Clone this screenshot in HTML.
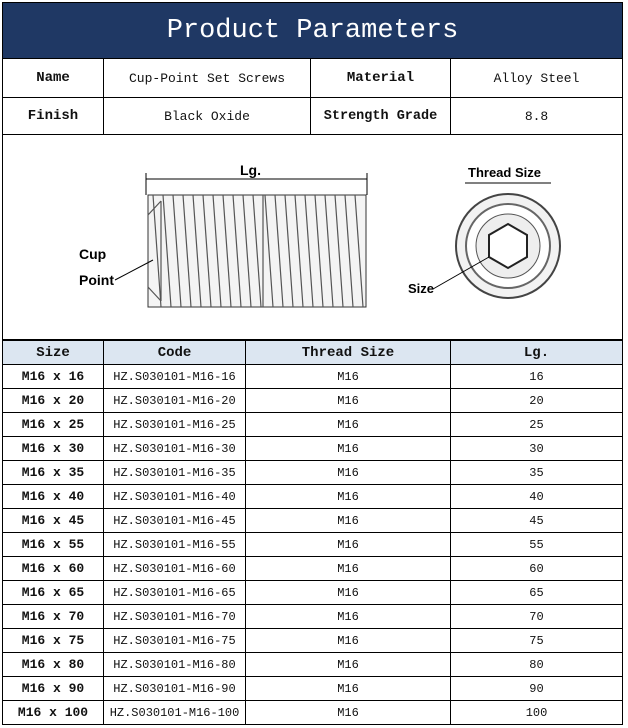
<!DOCTYPE html>
<html><head><style>
body{margin:0;background:#fff;width:628px;height:728px;overflow:hidden;font-family:"Liberation Mono","Noto Sans CJK SC",monospace;}
.wrap{position:absolute;left:2px;top:2px;width:620px;}
table{border-collapse:collapse;width:620px;table-layout:fixed;}
td{border:1px solid #000;text-align:center;padding:0;font-size:13px;color:#111;white-space:nowrap;overflow:hidden;}
.b{font-family:"Liberation Mono",monospace;font-weight:bold;font-size:14px;}
.hdr{background:#1f3864;color:#fff;font-family:"Liberation Mono",monospace;font-size:27px;height:55px;}
.th td{background:#dce6f1;height:23px;}
.r td{height:23px;font-size:12px;}
.r td:first-child{font-weight:bold;font-size:13px;}
</style></head><body>
<div class="wrap">
<table>
<colgroup><col style="width:101px"><col style="width:207px"><col style="width:140px"><col style="width:172px"></colgroup>
<tr><td colspan="4" class="hdr">Product Parameters</td></tr>
<tr style="height:39px"><td class="b">Name</td><td>Cup-Point Set Screws</td><td class="b">Material</td><td>Alloy Steel</td></tr>
<tr style="height:37px"><td class="b">Finish</td><td>Black Oxide</td><td class="b" style="font-size:13.5px">Strength Grade</td><td>8.8</td></tr>
<tr style="height:205px"><td colspan="4" style="position:relative">
<svg width="618" height="203" viewBox="0 0 618 203" style="position:absolute;left:0;top:0" font-family="Liberation Sans,sans-serif" font-weight="bold" font-size="14">
<text x="237" y="40">Lg.</text>
<line x1="143" y1="44" x2="364" y2="44" stroke="#000"/>
<line x1="143" y1="38" x2="143" y2="60" stroke="#000"/>
<line x1="364" y1="38" x2="364" y2="60" stroke="#000"/>
<rect x="145" y="60" width="218" height="112" fill="#f4f4f4" stroke="#333"/>
<g stroke="#555" stroke-width="1.2" fill="none">
<path d="M150 60 l8 112 M160 60 l8 112 M170 60 l8 112 M180 60 l8 112 M190 60 l8 112 M200 60 l8 112 M210 60 l8 112 M220 60 l8 112 M230 60 l8 112 M240 60 l8 112 M250 60 l8 112 M262 60 l8 112 M272 60 l8 112 M282 60 l8 112 M292 60 l8 112 M302 60 l8 112 M312 60 l8 112 M322 60 l8 112 M332 60 l8 112 M342 60 l8 112 M352 60 l8 112"/>
<line x1="260" y1="60" x2="260" y2="172"/>
<path d="M145 80 L158 66 M145 152 L158 166 M158 66 L158 166"/>
</g>
<text x="76" y="124">Cup</text><text x="76" y="150">Point</text>
<line x1="112" y1="145" x2="150" y2="125" stroke="#000"/>
<text x="465" y="42" font-size="13">Thread Size</text>
<line x1="462" y1="48" x2="548" y2="48" stroke="#000"/>
<circle cx="505" cy="111" r="52" fill="#f2f2f2" stroke="#444" stroke-width="2"/>
<circle cx="505" cy="111" r="42" fill="#fff" stroke="#666" stroke-width="2"/>
<circle cx="505" cy="111" r="32" fill="#eee" stroke="#555"/>
<polygon points="505,89 524,100 524,122 505,133 486,122 486,100" fill="#fff" stroke="#222" stroke-width="2"/>
<text x="405" y="158" font-size="13">Size</text>
<line x1="430" y1="154" x2="486" y2="122" stroke="#000"/>
</svg></td></tr>
</table>
<table>
<colgroup><col style="width:101px"><col style="width:142px"><col style="width:205px"><col style="width:172px"></colgroup>
<tr class="th"><td class="b">Size</td><td class="b">Code</td><td class="b">Thread Size</td><td class="b">Lg.</td></tr>
<tr class="r"><td>M16 x 16</td><td>HZ.S030101-M16-16</td><td>M16</td><td>16</td></tr>
<tr class="r"><td>M16 x 20</td><td>HZ.S030101-M16-20</td><td>M16</td><td>20</td></tr>
<tr class="r"><td>M16 x 25</td><td>HZ.S030101-M16-25</td><td>M16</td><td>25</td></tr>
<tr class="r"><td>M16 x 30</td><td>HZ.S030101-M16-30</td><td>M16</td><td>30</td></tr>
<tr class="r"><td>M16 x 35</td><td>HZ.S030101-M16-35</td><td>M16</td><td>35</td></tr>
<tr class="r"><td>M16 x 40</td><td>HZ.S030101-M16-40</td><td>M16</td><td>40</td></tr>
<tr class="r"><td>M16 x 45</td><td>HZ.S030101-M16-45</td><td>M16</td><td>45</td></tr>
<tr class="r"><td>M16 x 55</td><td>HZ.S030101-M16-55</td><td>M16</td><td>55</td></tr>
<tr class="r"><td>M16 x 60</td><td>HZ.S030101-M16-60</td><td>M16</td><td>60</td></tr>
<tr class="r"><td>M16 x 65</td><td>HZ.S030101-M16-65</td><td>M16</td><td>65</td></tr>
<tr class="r"><td>M16 x 70</td><td>HZ.S030101-M16-70</td><td>M16</td><td>70</td></tr>
<tr class="r"><td>M16 x 75</td><td>HZ.S030101-M16-75</td><td>M16</td><td>75</td></tr>
<tr class="r"><td>M16 x 80</td><td>HZ.S030101-M16-80</td><td>M16</td><td>80</td></tr>
<tr class="r"><td>M16 x 90</td><td>HZ.S030101-M16-90</td><td>M16</td><td>90</td></tr>
<tr class="r"><td>M16 x 100</td><td>HZ.S030101-M16-100</td><td>M16</td><td>100</td></tr>
</table>
</div>
</body></html>
